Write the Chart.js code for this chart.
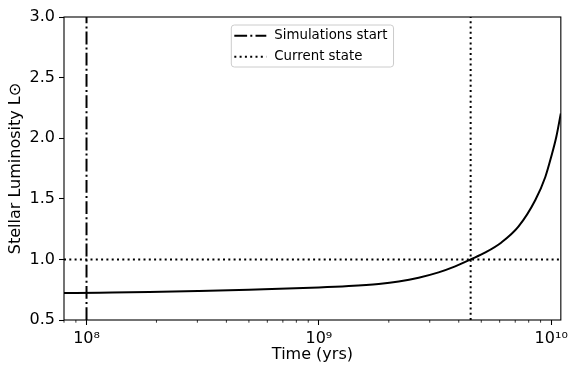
<!DOCTYPE html>
<html>
<head>
<meta charset="utf-8">
<script src="https://cdn.jsdelivr.net/npm/chart.js@4/dist/chart.umd.min.js"></script>
<style>
  html, body { margin: 0; padding: 0; background: #fff; }
  #wrap { width: 572px; height: 367px; }
</style>
</head>
<body>
<div id="wrap"><canvas id="c" width="572" height="367"></canvas></div>
<script>
// Solar luminosity track (in units of present-day L_sun) against stellar age in years
const timeYrs = [8e7, 1.137e8, 1.862e8, 3.05e8, 5.005e8, 1e9, 1.345e9, 1.809e9, 2.206e9, 2.688e9,
                 3.276e9, 3.837e9, 4.5e9, 5.212e9, 6.106e9, 7.223e9, 8.545e9, 9.432e9,
                 1.0e10, 1.052e10, 1.1e10];
const luminosity = [0.722, 0.725, 0.730, 0.739, 0.750, 0.768, 0.780, 0.798, 0.818, 0.849,
                    0.893, 0.940, 1.000, 1.058, 1.140, 1.270, 1.490, 1.680,
                    1.847, 2.012, 2.205];

// Reference markers
const simulationStart = 1e8;     // yrs
const currentAge = 4.5e9;        // yrs
const currentLuminosity = 1.0;   // L_sun

// Axis limits and ticks
const xLimits = [8e7, 1.1e10];
const yLimits = [0.5, 3.0];
const xMajorTicks = [1e8, 1e9, 1e10];
const xTickLabels = ['10⁸', '10⁹', '10¹⁰'];
const yTicks = [0.5, 1.0, 1.5, 2.0, 2.5, 3.0];

const FONT = 'DejaVu Sans';
const DASHDOT = [12.8, 3.2, 2, 3.2];
const DOTTED = [2, 3.3];

const curve = timeYrs.map((t, i) => ({ x: t, y: luminosity[i] }));

// Tick marks for 2..9 x 10^n on the log axis
const minorTicks = {
  id: 'minorTicks',
  afterDraw(chart) {
    const xs = chart.scales.x;
    const ctx = chart.ctx;
    const bottom = chart.chartArea.bottom;
    ctx.save();
    ctx.strokeStyle = '#000';
    ctx.lineWidth = 0.8;
    for (let n = 7; n <= 10; n++) {
      for (let k = 2; k <= 9; k++) {
        const v = k * Math.pow(10, n);
        if (v < xLimits[0] || v > xLimits[1]) continue;
        const px = xs.getPixelForValue(v);
        ctx.beginPath();
        ctx.moveTo(px, bottom);
        ctx.lineTo(px, bottom + 2.7);
        ctx.stroke();
      }
    }
    ctx.restore();
  }
};

// Full box around the plotting area
const frame = {
  id: 'frame',
  afterDraw(chart) {
    const { left, top, right, bottom } = chart.chartArea;
    const ctx = chart.ctx;
    ctx.save();
    ctx.strokeStyle = '#000';
    ctx.lineWidth = 1.1;
    ctx.strokeRect(left, top, right - left, bottom - top);
    ctx.restore();
  }
};

// Framed legend at the upper centre of the plotting area
const boxedLegend = {
  id: 'boxedLegend',
  afterDraw(chart) {
    const ctx = chart.ctx;
    const items = chart.data.datasets.filter(d => d.inLegend);
    const fs = 13.33;
    ctx.save();
    ctx.font = fs + 'px "' + FONT + '"';
    const textW = Math.max(...items.map(d => ctx.measureText(d.label).width));
    const handleLen = 32, handlePad = 8, pad = 3;
    const w = pad + handleLen + handlePad + textW + 6;
    const rowH = 21;
    const h = 42;
    const { left, right, top } = chart.chartArea;
    const bx = (left + right) / 2 - w / 2;
    const by = top + 8;
    ctx.beginPath();
    ctx.roundRect(bx, by, w, h, 3);
    ctx.fillStyle = 'rgba(255,255,255,0.8)';
    ctx.fill();
    ctx.strokeStyle = '#cccccc';
    ctx.lineWidth = 1;
    ctx.stroke();
    items.forEach((d, i) => {
      const y = by + 10.7 + i * rowH;
      ctx.save();
      ctx.strokeStyle = d.borderColor;
      ctx.lineWidth = d.borderWidth;
      ctx.setLineDash(d.borderDash || []);
      ctx.beginPath();
      ctx.moveTo(bx + pad, y);
      ctx.lineTo(bx + pad + handleLen, y);
      ctx.stroke();
      ctx.restore();
      ctx.fillStyle = '#000';
      ctx.textBaseline = 'middle';
      ctx.textAlign = 'left';
      ctx.fillText(d.label, bx + pad + handleLen + handlePad, y);
    });
    ctx.restore();
  }
};

new Chart(document.getElementById('c'), {
  type: 'line',
  data: {
    datasets: [
      {
        label: 'Luminosity',
        data: curve,
        borderColor: '#000',
        borderWidth: 2,
        pointRadius: 0,
        cubicInterpolationMode: 'monotone',
        inLegend: false
      },
      {
        label: 'Simulations start',
        data: [{ x: simulationStart, y: yLimits[0] }, { x: simulationStart, y: yLimits[1] }],
        borderColor: '#000',
        borderWidth: 2,
        borderDash: DASHDOT,
        pointRadius: 0,
        inLegend: true
      },
      {
        label: 'Current state',
        data: [{ x: currentAge, y: yLimits[0] }, { x: currentAge, y: yLimits[1] }],
        borderColor: '#000',
        borderWidth: 2,
        borderDash: DOTTED,
        pointRadius: 0,
        inLegend: true
      },
      {
        label: 'Current luminosity',
        data: [{ x: xLimits[0], y: currentLuminosity }, { x: xLimits[1], y: currentLuminosity }],
        borderColor: '#000',
        borderWidth: 2,
        borderDash: DOTTED,
        pointRadius: 0,
        inLegend: false
      }
    ]
  },
  options: {
    responsive: false,
    animation: false,
    devicePixelRatio: 1,
    layout: { padding: { top: 17, right: 10, left: 0, bottom: 0 } },
    plugins: {
      legend: { display: false },
      tooltip: { enabled: false }
    },
    scales: {
      x: {
        type: 'logarithmic',
        min: xLimits[0],
        max: xLimits[1],
        afterBuildTicks(scale) {
          scale.ticks = xMajorTicks.map(v => ({ value: v, major: true }));
        },
        afterFit(scale) { scale.height = 47; },
        grid: {
          display: true, drawOnChartArea: false, drawTicks: true,
          tickLength: 5, tickColor: '#000', tickWidth: 1.07
        },
        border: { display: false },
        ticks: {
          color: '#000',
          font: { family: FONT, size: 16 },
          padding: 4,
          maxRotation: 0,
          autoSkip: false,
          callback(v) {
            const i = xMajorTicks.indexOf(v);
            return i >= 0 ? xTickLabels[i] : '';
          }
        },
        title: {
          display: true,
          text: 'Time (yrs)',
          color: '#000',
          font: { family: FONT, size: 16 },
          padding: { top: 0, bottom: 3 }
        }
      },
      y: {
        type: 'linear',
        min: yLimits[0],
        max: yLimits[1],
        afterBuildTicks(scale) {
          scale.ticks = yTicks.map(v => ({ value: v }));
        },
        afterFit(scale) { scale.width = 64; },
        grid: {
          display: true, drawOnChartArea: false, drawTicks: true,
          tickLength: 5, tickColor: '#000', tickWidth: 1.07
        },
        border: { display: false },
        ticks: {
          color: '#000',
          font: { family: FONT, size: 16 },
          padding: 4,
          callback(v) { return v.toFixed(1); }
        },
        title: {
          display: true,
          text: 'Stellar Luminosity L⊙',
          color: '#000',
          font: { family: FONT, size: 16 },
          padding: { top: 6, bottom: 0 }
        }
      }
    }
  },
  plugins: [minorTicks, frame, boxedLegend]
});
</script>
</body>
</html>
